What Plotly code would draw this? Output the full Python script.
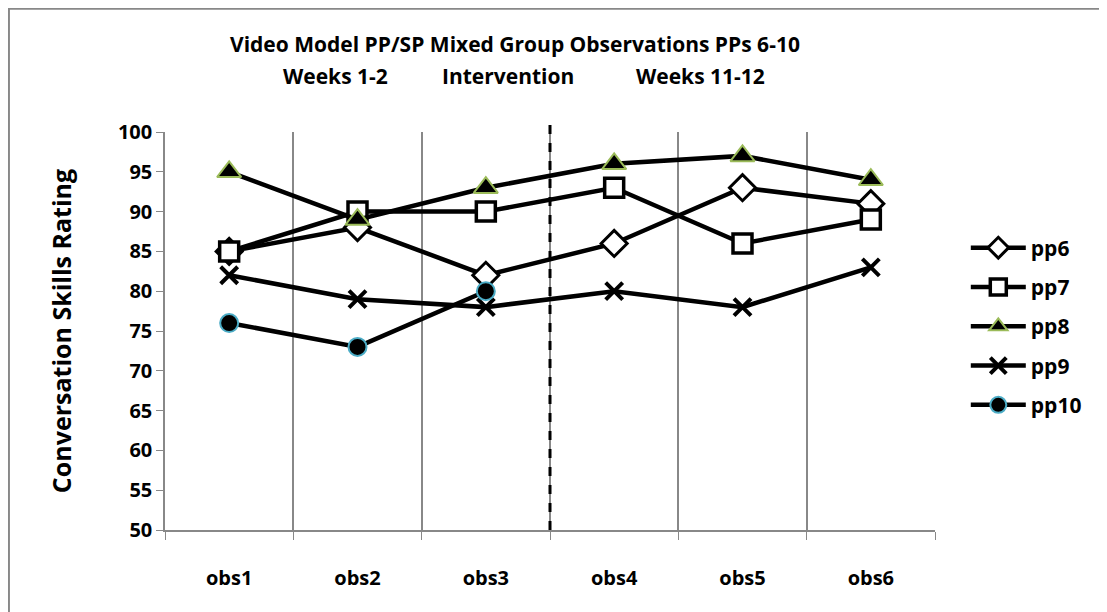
import plotly.graph_objects as go

categories = ["obs1", "obs2", "obs3", "obs4", "obs5", "obs6"]
pp6 = [85, 88, 82, 86, 93, 91]
pp7 = [85, 90, 90, 93, 86, 89]
pp8 = [95, 89, 93, 96, 97, 94]
pp9 = [82, 79, 78, 80, 78, 83]
pp10 = [76, 73, 80]

FONT = "Open Sans"
fig = go.Figure()

series = [
    ("pp6", pp6, dict(symbol="diamond", size=20, color="white", line=dict(color="black", width=3))),
    ("pp7", pp7, dict(symbol="square", size=19, color="white", line=dict(color="black", width=3.5))),
    ("pp8", pp8, dict(symbol="triangle-up", size=21, color="black", line=dict(color="#9BBB59", width=2))),
    ("pp9", pp9, dict(symbol="x-thin", size=17, color="black", line=dict(color="black", width=4))),
    ("pp10", pp10, dict(symbol="circle", size=18, color="black", line=dict(color="#4BACC6", width=2))),
]
for name, vals, marker in series:
    fig.add_trace(go.Scatter(
        x=categories[:len(vals)], y=vals, name=f"<b>{name}</b>", mode="lines+markers",
        line=dict(color="black", width=4.5), marker=marker, legendgroup=name,
    ))

# phase-change dashed line between obs3 and obs4
fig.add_shape(type="line", xref="x", yref="paper", x0=2.5, x1=2.5, y0=0, y1=1.03,
              line=dict(color="black", width=3, dash="dash"))

# outer chart border
fig.add_shape(type="rect", xref="paper", yref="paper", x0=-0.203, x1=1.35, y0=-0.4, y1=1.31,
              line=dict(color="#888888", width=2.5), layer="below")

PX0, PW, PY0, PH = 165, 770, 132, 398  # screen geometry of plot area
def px(x):
    return (x - PX0) / PW
def py(y):
    return 1 + (PY0 - y) / PH

title_font = dict(family=FONT, size=21, color="black")
fig.add_annotation(text="<b>Video Model PP/SP Mixed Group Observations PPs 6-10</b>",
                   xref="paper", yref="paper", x=px(515), y=py(44),
                   showarrow=False, font=title_font, xanchor="center", yanchor="middle")
for txt, xc in [("Weeks 1-2", 335), ("Intervention", 508), ("Weeks 11-12", 700)]:
    fig.add_annotation(text=f"<b>{txt}</b>", xref="paper", yref="paper",
                       x=px(xc), y=py(76),
                       showarrow=False, font=title_font, xanchor="center", yanchor="middle")

fig.update_layout(
    width=1107, height=612,
    margin=dict(l=157, r=180, t=124, b=90),
    plot_bgcolor="white", paper_bgcolor="white",
    font=dict(family=FONT, color="black"),
    showlegend=True,
    legend=dict(x=1.04, y=0.76, xanchor="left", yanchor="top", itemwidth=55,
                font=dict(family=FONT, size=21, color="black"),
                tracegroupgap=9, bgcolor="rgba(0,0,0,0)"),
    xaxis=dict(type="category", tickson="boundaries", showgrid=True, gridcolor="#888888",
               gridwidth=1.5, showline=True, linecolor="#888888", linewidth=1.5,
               ticks="outside", ticklen=8, tickcolor="#888888",
               tickfont=dict(family=FONT, size=20, color="black"),
               tickprefix="<b>", ticksuffix="</b>", range=[-0.5, 5.5],
               ticklabelstandoff=29),
    yaxis=dict(range=[50, 100], dtick=5, showgrid=False, showline=True, linecolor="#888888",
               linewidth=1.5, ticks="outside", ticklen=7, tickcolor="#888888",
               tickfont=dict(family=FONT, size=20, color="black"),
               tickprefix="<b>", ticksuffix="</b>", zeroline=False,
               title=dict(text="<b>Conversation Skills Rating</b>",
                          font=dict(family=FONT, size=25, color="black"), standoff=39)),
)

fig.write_html("out.html")
